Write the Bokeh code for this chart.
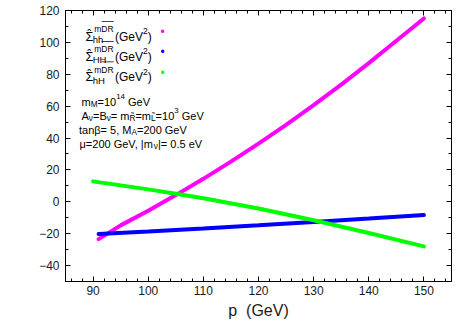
from bokeh.plotting import figure
from bokeh.models import (Label, BoxAnnotation, LinearAxis, FixedTicker,
                          CustomJSTickFormatter, Range1d)
from bokeh.embed import file_html
from bokeh.resources import INLINE

# ---------------- data ----------------
p_hh = [91, 95, 100, 105, 110, 115, 120, 125, 130, 135, 140, 145, 150]
sigma_hh = [-23.4, -14.8, -5.6, 4.2, 14.4, 25.2, 36.5, 48.3, 60.6, 73.5, 87.0, 101.0, 115.0]

p_HH = [91, 100, 110, 120, 130, 140, 150]
sigma_HH = [-20.2, -18.6, -16.7, -14.7, -12.6, -10.5, -8.3]

p_hH = [90, 100, 105, 110, 120, 130, 140, 150]
sigma_hH = [12.8, 7.8, 5.1, 2.2, -4.2, -11.6, -19.6, -28.0]

x_major = [90, 100, 110, 120, 130, 140, 150]
x_minor = list(range(86, 155, 2))
y_major = [-40, -20, 0, 20, 40, 60, 80, 100, 120]
y_minor = list(range(-50, 121, 10))
y_tick_labels = ["\u221240", "\u221220", "0", "20", "40", "60", "80", "100", "120"]
x_tick_labels = ["90", "100", "110", "120", "130", "140", "150"]

series_names = ["hh", "HH", "hH"]
series_colors = ["#ff00ff", "#0000ff", "#00ff00"]

FONT = "Liberation Sans"
NB = "\u00a0"

# ---------------- figure ----------------
p = figure(frame_width=386, frame_height=271,
           x_range=Range1d(85, 155), y_range=Range1d(-50, 120),
           output_backend="svg", toolbar_location=None,
           min_border_left=65, min_border_right=8, min_border_top=10,
           min_border_bottom=44,
           background_fill_color="white", border_fill_color="white")
p.xgrid.visible = False
p.ygrid.visible = False
p.outline_line_color = "black"
p.outline_line_width = 1


def style_axis(ax, ticks, minor):
    ax.ticker = FixedTicker(ticks=ticks, minor_ticks=minor)
    ax.axis_line_color = "black"
    ax.major_tick_line_color = "black"
    ax.minor_tick_line_color = "black"
    ax.major_tick_in = 5
    ax.major_tick_out = 0
    ax.minor_tick_in = 3
    ax.minor_tick_out = 0
    ax.major_label_text_font = FONT
    ax.major_label_text_font_size = "12px"
    ax.major_label_text_color = "#1a1a1a"


style_axis(p.xaxis[0], x_major, x_minor)
style_axis(p.yaxis[0], y_major, y_minor)
p.xaxis[0].major_label_overrides = {t: s for t, s in zip(x_major, x_tick_labels)}
p.yaxis[0].major_label_overrides = {t: s for t, s in zip(y_major, y_tick_labels)}
p.xaxis[0].major_label_standoff = 4
p.yaxis[0].major_label_standoff = 6
p.xaxis[0].axis_label = "p" + NB + NB + "(GeV)"
p.xaxis[0].axis_label_text_font = FONT
p.xaxis[0].axis_label_text_font_size = "16px"
p.xaxis[0].axis_label_text_font_style = "normal"
p.xaxis[0].axis_label_text_color = "#1a1a1a"
p.xaxis[0].axis_label_standoff = 4

for loc, ticks, minor in (("above", x_major, x_minor), ("right", y_major, y_minor)):
    ax = LinearAxis(formatter=CustomJSTickFormatter(code="return ''"))
    style_axis(ax, ticks, minor)
    ax.major_label_standoff = 0
    ax.major_label_text_font_size = "1px"
    p.add_layout(ax, loc)

# ---------------- curves ----------------
p.line(p_hh, sigma_hh, line_color=series_colors[0], line_width=4, line_cap="round")
p.line(p_HH, sigma_HH, line_color=series_colors[1], line_width=4, line_cap="round")
p.line(p_hH, sigma_hH, line_color=series_colors[2], line_width=4, line_cap="round")

# ---------------- text helpers (page pixel -> data) ----------------
FL, FR, FT, FB = 65.0, 451.0, 10.0, 281.0
X0, X1, Y0, Y1 = 85.0, 155.0, -50.0, 120.0


def dx(px):
    return X0 + (px - FL) * (X1 - X0) / (FR - FL)


def dy(py):
    return Y1 - (py - FT) * (Y1 - Y0) / (FB - FT)


W = {" ": 278, NB: 278, "(": 333, ")": 333, "=": 584, ",": 278, ".": 278, "|": 260,
     "A": 667, "B": 667, "D": 722, "G": 778, "H": 722, "L": 556, "M": 833,
     "R": 722, "V": 667, "a": 556, "e": 556, "h": 556, "m": 833, "n": 556,
     "t": 278, "\u03b2": 573, "\u03bc": 576, "\u03bd": 500, "\u03a3": 618,
     "\u0303": 0}


def tw(s, size):
    return sum(W.get(c, 556) for c in s) * size / 1000.0


def put(text, px, py, size, color="black"):
    p.add_layout(Label(x=dx(px), y=dy(py), text=text, text_font=FONT,
                       text_font_size="%.1fpx" % size, text_color=color,
                       text_baseline="alphabetic", text_align="left"))


def rich(x, y, segs, size):
    for txt, mode in segs:
        if mode == "sub":
            s, yy = size * 0.75, y + size * 0.25
        elif mode == "sup":
            s, yy = size * 0.72, y - size * 0.5
        else:
            s, yy = size, y
        put(txt, x, yy, s)
        x += tw(txt, s)
    return x


# ---------------- legend block ----------------
for i, (name, col) in enumerate(zip(series_names, series_colors)):
    yb = 36 + 20.3 * i
    x = 85.0
    put("\u03a3", x, yb, 12.5)
    put("\u02c6", x + 1.8, yb - 2.0, 12)
    xs = x + tw("\u03a3", 12.5)
    put(name, xs - 0.5, yb + 3.0, 9.5)
    put("m", xs + 1.0, yb - 7.5, 8.5)
    xd = xs + 1.0 + tw("m", 8.5)
    put("DR", xd, yb - 7.5, 8.5)
    wd = tw("DR", 8.5)
    p.add_layout(BoxAnnotation(left=dx(xd + 0.3), right=dx(xd + wd),
                               top=dy(yb - 15.6), bottom=dy(yb - 14.8),
                               fill_color="black", fill_alpha=1.0,
                               line_color=None, level="overlay"))
    xg = 114.5
    put("(GeV", xg, yb, 12)
    xg += tw("(GeV", 12)
    put("2", xg, yb - 5.5, 8.5)
    xg += tw("2", 8.5)
    put(")", xg, yb, 12)
    put("\u2022", 160.0, yb - 9.0 + 4.5, 12, color=col)

# ---------------- parameter lines ----------------
rich(81, 101, [("m", "n"), ("M", "sub"), ("=10", "n"), ("14", "sup"), (NB + "GeV", "n")], 11)
rich(81, 115, [("A", "n"), ("\u03bd", "sub"), ("=B", "n"), ("\u03bd", "sub"),
               ("=" + NB + "m", "n"), ("R\u0303", "sub"), ("=m", "n"), ("L\u0303", "sub"),
               ("=10", "n"), ("3", "sup"), (NB + "GeV", "n")], 11)
rich(78.5, 129, [("tan\u03b2=" + NB + "5," + NB + "M", "n"), ("A", "sub"),
                 ("=200" + NB + "GeV", "n")], 11)
rich(79, 143, [("\u03bc=200" + NB + "GeV," + NB + "|m", "n"), ("\u03bd", "sub"),
               ("|=" + NB + "0.5" + NB + "eV", "n")], 11)

open("out.html", "w").write(file_html(p, INLINE))
